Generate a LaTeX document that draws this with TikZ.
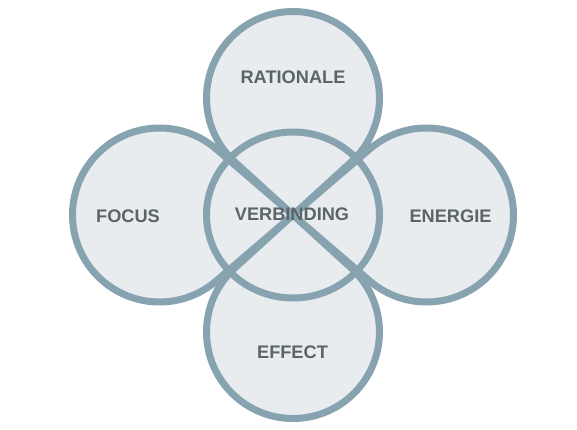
\documentclass[tikz,border=0pt]{standalone}
\usepackage{fontspec}
\setmainfont{Liberation Sans}
\usetikzlibrary{calc}
\definecolor{ringcol}{HTML}{87A3B0}
\definecolor{petalfill}{HTML}{E8ECEF}
\definecolor{labelcol}{HTML}{5A6469}
\tikzset{
  petalfillstyle/.style={fill=petalfill},
  petalline/.style={draw=ringcol, line width=7pt, line join=round},
  lbl/.style={font=\fontsize{18.2pt}{20pt}\selectfont\bfseries, text=labelcol,
    inner sep=0pt, text height=13pt, text depth=0pt, anchor=center}
}
% #1 centre, #2 radius, #3 start angle, #4 end angle
\newcommand\petalpath[4]{(O) -- ($(#1)+(#3:#2pt)$) arc[start angle=#3, end angle=#4, radius=#2pt] -- cycle}
\begin{document}
\begin{tikzpicture}[x=1pt,y=1pt]
  \useasboundingbox (0,0) rectangle (577,430);
  \fill[white] (0,0) rectangle (577,430);
  \coordinate (O) at (293,215);
  \coordinate (CT) at (293,332);
  \coordinate (CB) at (293,98);
  \coordinate (CL) at (159.5,215);
  \coordinate (CR) at (426.5,215);
  % fills
  \path[petalfillstyle] \petalpath{CT}{86.5}{-47.67}{227.67};
  \path[petalfillstyle] \petalpath{CL}{87}{49.33}{310.67};
  \path[petalfillstyle] \petalpath{CR}{87}{229.33}{490.67};
  \path[petalfillstyle] \petalpath{CB}{86.5}{132.33}{407.67};
  % outlines
  \path[petalline] \petalpath{CT}{86.5}{-47.67}{227.67};
  \path[petalline] \petalpath{CL}{87}{49.33}{310.67};
  \path[petalline] \petalpath{CR}{87}{229.33}{490.67};
  \path[petalline] \petalpath{CB}{86.5}{132.33}{407.67};
  % centre ring
  \draw[petalline] (O) ellipse[x radius=86.5pt, y radius=83pt];
  % labels
  \node[lbl] (rat) at (293,353) {RATIONALE};
  \node[lbl] (ver) at (292,216) {VERBINDING};
  \node[lbl] (foc) at (128,214) {FOCUS};
  \node[lbl] (ene) at (450.5,213.7) {ENERGIE};
  \node[lbl] (eff) at (292.5,78) {EFFECT};
\end{tikzpicture}
\end{document}
